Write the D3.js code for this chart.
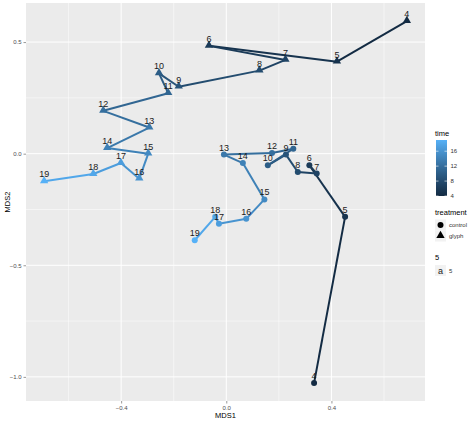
<!DOCTYPE html>
<html>
<head>
<meta charset="utf-8">
<script src="https://cdn.jsdelivr.net/npm/d3@7"></script>
<style>
  body { margin: 0; background: #fff; }
  text { font-family: "Liberation Sans", Arial, sans-serif; }
</style>
</head>
<body>
<svg id="chart" width="474" height="423"></svg>
<script>
// ---- data ----
const times = [4,5,6,7,8,9,10,11,12,13,14,15,16,17,18,19];
const glyphX = [0.687,0.421,-0.066,0.225,0.126,-0.181,-0.256,-0.221,-0.468,-0.293,-0.453,-0.297,-0.331,-0.401,-0.506,-0.693];
const glyphY = [0.594,0.412,0.483,0.420,0.372,0.300,0.360,0.271,0.192,0.117,0.025,0.000,-0.112,-0.042,-0.091,-0.124];
const controlX = [0.334,0.452,0.316,0.344,0.272,0.227,0.158,0.255,0.174,-0.009,0.063,0.145,0.076,-0.028,-0.042,-0.120];
const controlY = [-1.027,-0.283,-0.052,-0.089,-0.082,-0.004,-0.052,0.022,0.003,-0.004,-0.042,-0.205,-0.292,-0.314,-0.283,-0.388];
const xTicks = [-0.4, 0.0, 0.4];
const yTicks = [-1.0, -0.5, 0.0, 0.5];
const xMinor = [-0.6, -0.2, 0.2, 0.6];
const yMinor = [-0.75, -0.25, 0.25];
const timeBreaks = [4, 8, 12, 16];
const treatments = ["control", "glyph"];

const series = [
  {name: "control", pts: times.map((t,i) => ({t, x: controlX[i], y: controlY[i]}))},
  {name: "glyph",   pts: times.map((t,i) => ({t, x: glyphX[i],   y: glyphY[i]}))}
];
const all = series.flatMap(s => s.pts);

const svg = d3.select("#chart");
const P = {l: 26, r: 425, t: 3, b: 401};

function expand(ext) { const d = (ext[1]-ext[0])*0.05; return [ext[0]-d, ext[1]+d]; }
const x = d3.scaleLinear().domain(expand(d3.extent(all, d => d.x))).range([P.l, P.r]);
const y = d3.scaleLinear().domain(expand(d3.extent(all, d => d.y))).range([P.b, P.t]);
const tExt = d3.extent(times);
const color = d3.scaleLinear().domain(tExt).range(["#132B43", "#56B1F7"]).interpolate(d3.interpolateLab);

// panel
svg.append("rect").attr("x", P.l).attr("y", P.t).attr("width", P.r-P.l).attr("height", P.b-P.t).attr("fill", "#EBEBEB");
const grid = svg.append("g");
xMinor.forEach(v => grid.append("line").attr("x1", x(v)).attr("x2", x(v)).attr("y1", P.t).attr("y2", P.b).attr("stroke", "#fff").attr("stroke-width", 0.5));
yMinor.forEach(v => grid.append("line").attr("y1", y(v)).attr("y2", y(v)).attr("x1", P.l).attr("x2", P.r).attr("stroke", "#fff").attr("stroke-width", 0.5));
xTicks.forEach(v => grid.append("line").attr("x1", x(v)).attr("x2", x(v)).attr("y1", P.t).attr("y2", P.b).attr("stroke", "#fff").attr("stroke-width", 1));
yTicks.forEach(v => grid.append("line").attr("y1", y(v)).attr("y2", y(v)).attr("x1", P.l).attr("x2", P.r).attr("stroke", "#fff").attr("stroke-width", 1));

// axes
const xAxis = svg.append("g").attr("transform", `translate(0,${P.b})`)
  .call(d3.axisBottom(x).tickValues(xTicks).tickSize(2.5).tickPadding(2).tickFormat(d3.format(".1f")));
const yAxis = svg.append("g").attr("transform", `translate(${P.l},0)`)
  .call(d3.axisLeft(y).tickValues(yTicks).tickSize(2.5).tickPadding(2).tickFormat(d3.format(".1f")));
[xAxis, yAxis].forEach(a => {
  a.select(".domain").remove();
  a.selectAll(".tick line").attr("stroke", "#333").attr("stroke-width", 0.5);
  a.selectAll(".tick text").attr("fill", "#4D4D4D").style("font-size", "6px").style("font-family", "Liberation Sans, Arial, sans-serif");
});
svg.append("text").attr("x", (P.l+P.r)/2).attr("y", 418).attr("text-anchor", "middle").style("font-size", "7.5px").attr("fill", "#000").text("MDS1");
svg.append("text").attr("transform", `translate(10,${(P.t+P.b)/2}) rotate(-90)`).attr("text-anchor", "middle").style("font-size", "7.5px").attr("fill", "#000").text("MDS2");

// paths (segments coloured by starting time)
const plot = svg.append("g");
series.forEach(s => {
  for (let i = 0; i < s.pts.length-1; i++) {
    const a = s.pts[i], b = s.pts[i+1];
    plot.append("line").attr("x1", x(a.x)).attr("y1", y(a.y)).attr("x2", x(b.x)).attr("y2", y(b.y))
      .attr("stroke", color(a.t)).attr("stroke-width", 2).attr("stroke-linecap", "butt");
  }
});
// points
const tri = d3.symbol().type(d3.symbolTriangle).size(30);
series.forEach(s => {
  s.pts.forEach(p => {
    if (s.name === "control") {
      plot.append("circle").attr("cx", x(p.x)).attr("cy", y(p.y)).attr("r", 3).attr("fill", color(p.t));
    } else {
      plot.append("path").attr("d", tri).attr("transform", `translate(${x(p.x)},${y(p.y)-0.5})`).attr("fill", color(p.t));
    }
  });
});
// labels
series.forEach(s => {
  s.pts.forEach(p => {
    plot.append("text").attr("x", x(p.x)).attr("y", y(p.y)-4).attr("text-anchor", "middle")
      .style("font-size", "9px").attr("fill", "#1a1a1a").text(p.t);
  });
});

// legend: time colourbar
const L = svg.append("g");
L.append("text").attr("x", 435).attr("y", 136).style("font-size", "7.5px").attr("fill", "#000").text("time");
const barX = 436, barW = 11, barTop = 140, barBot = 196;
const defs = svg.append("defs");
const grad = defs.append("linearGradient").attr("id", "tg").attr("x1", 0).attr("x2", 0).attr("y1", 1).attr("y2", 0);
d3.range(0, 1.0001, 0.1).forEach(f => grad.append("stop").attr("offset", f).attr("stop-color", color(tExt[0] + f*(tExt[1]-tExt[0]))));
L.append("rect").attr("x", barX).attr("y", barTop).attr("width", barW).attr("height", barBot-barTop).attr("fill", "url(#tg)");
const by = d3.scaleLinear().domain(tExt).range([barBot, barTop]);
timeBreaks.forEach(v => {
  L.append("line").attr("x1", barX).attr("x2", barX+2.5).attr("y1", by(v)).attr("y2", by(v)).attr("stroke", "#fff").attr("stroke-width", 0.6);
  L.append("line").attr("x1", barX+barW-2.5).attr("x2", barX+barW).attr("y1", by(v)).attr("y2", by(v)).attr("stroke", "#fff").attr("stroke-width", 0.6);
  L.append("text").attr("x", barX+barW+3.5).attr("y", by(v)+2).style("font-size", "6px").attr("fill", "#333").text(v);
});

// legend: treatment
L.append("text").attr("x", 435).attr("y", 215).style("font-size", "7.5px").attr("fill", "#000").text("treatment");
treatments.forEach((t, i) => {
  const cy = 225 + i*11;
  L.append("rect").attr("x", 435).attr("y", cy-5.5).attr("width", 11).attr("height", 11).attr("fill", "#F2F2F2");
  if (t === "control") L.append("circle").attr("cx", 440.5).attr("cy", cy).attr("r", 3).attr("fill", "#000");
  else L.append("path").attr("d", tri).attr("transform", `translate(440.5,${cy-0.5})`).attr("fill", "#000");
  L.append("text").attr("x", 449).attr("y", cy+2).style("font-size", "6px").attr("fill", "#333").text(t);
});

// legend: size 5 (text)
L.append("text").attr("x", 435).attr("y", 260).style("font-size", "7.5px").attr("fill", "#000").text("5");
L.append("rect").attr("x", 435).attr("y", 265).attr("width", 11).attr("height", 11).attr("fill", "#F2F2F2");
L.append("text").attr("x", 440.5).attr("y", 274).attr("text-anchor", "middle").style("font-size", "9px").attr("fill", "#1a1a1a").text("a");
L.append("text").attr("x", 449).attr("y", 272.5).style("font-size", "6px").attr("fill", "#333").text("5");
</script>
</body>
</html>
